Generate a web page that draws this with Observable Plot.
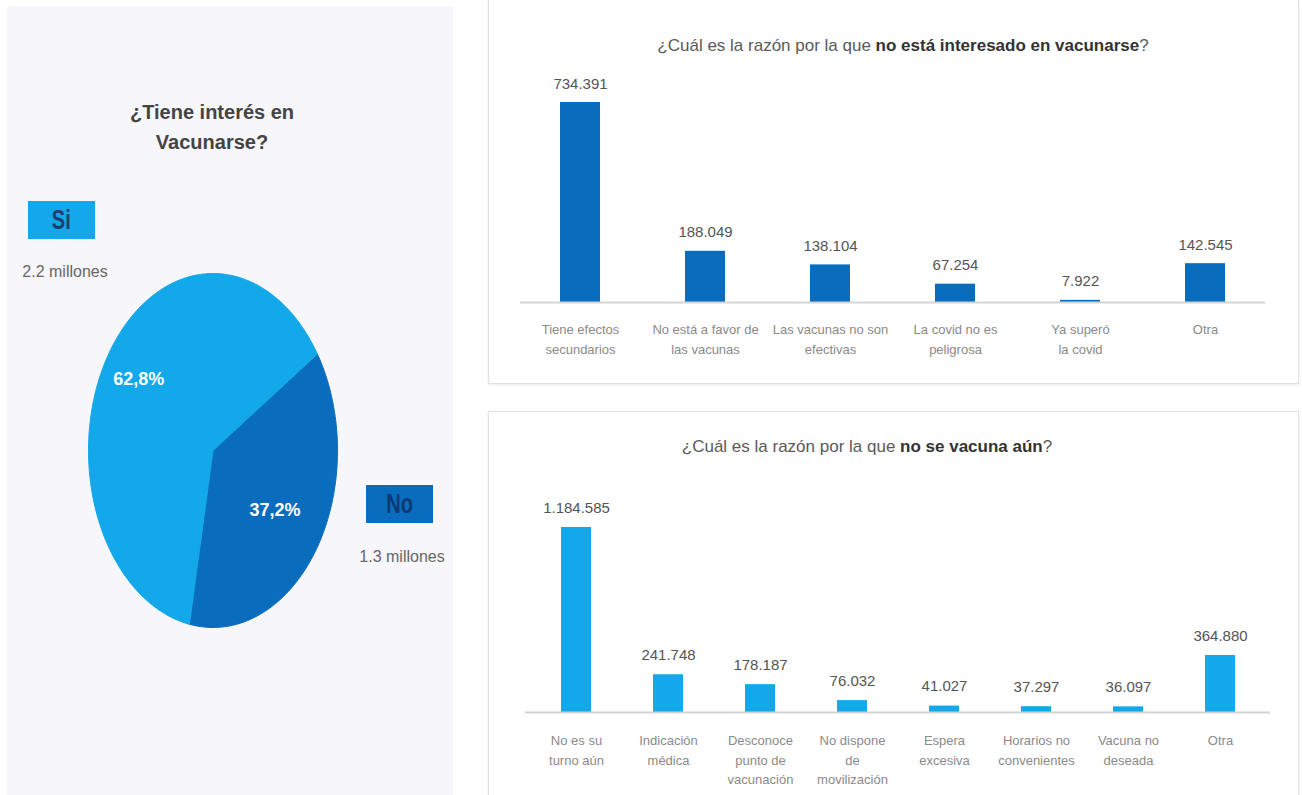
<!DOCTYPE html>
<html>
<head>
<meta charset="utf-8">
<script src="https://cdn.jsdelivr.net/npm/d3@7"></script>
<script src="https://cdn.jsdelivr.net/npm/@observablehq/plot@0.6"></script>
<style>
  html, body { margin: 0; padding: 0; background: #ffffff; }
  body { width: 1302px; height: 795px; position: relative; overflow: hidden; font-family: "Liberation Sans", Arial, sans-serif; }
  .abs { position: absolute; }
  #left { left: 7px; top: 6px; width: 446px; height: 789px; background: #f6f6fb; }
  .panel { background: #fff; border: 1px solid #e2e2e2; box-shadow: 0 1px 3px rgba(0,0,0,0.08); box-sizing: border-box; }
  #topPanel { left: 488px; top: -2px; width: 811px; height: 386px; }
  #botPanel { left: 488px; top: 411px; width: 811px; height: 390px; }
  .ptitle { font-size: 17px; color: #5a5a5a; white-space: nowrap; transform: translate(-50%, -50%); }
  .ptitle b { color: #333; }
  .pieTitle { font-size: 20px; font-weight: bold; color: #444; text-align: center; line-height: 30px; transform: translateX(-50%); white-space: nowrap; }
  .legBox { width: 67px; height: 38px; font-size: 28px; font-weight: bold; text-align: center; line-height: 38px; }
  .legBox span { display: inline-block; transform: scaleX(0.72); }
  .legVal { font-size: 16px; color: #666; white-space: nowrap; transform: translate(-50%, -50%); }
  svg { position: absolute; left: 0; top: 0; }
</style>
</head>
<body>
<div id="left" class="abs"></div>
<div id="topPanel" class="abs panel"></div>
<div id="botPanel" class="abs panel"></div>
<script>
// ---------- DATA ----------
const interestLabels = ["No", "Si"];
const interestShares = [37.2, 62.8];
const interestMillions = [1.3, 2.2];

const reasonsNotInterested = [
  "Tiene efectos\nsecundarios",
  "No está a favor de\nlas vacunas",
  "Las vacunas no son\nefectivas",
  "La covid no es\npeligrosa",
  "Ya superó\nla covid",
  "Otra"
];
const countsNotInterested = [734391, 188049, 138104, 67254, 7922, 142545];

const reasonsNotYet = [
  "No es su\nturno aún",
  "Indicación\nmédica",
  "Desconoce\npunto de\nvacunación",
  "No dispone\nde\nmovilización",
  "Espera\nexcesiva",
  "Horarios no\nconvenientes",
  "Vacuna no\ndeseada",
  "Otra"
];
const countsNotYet = [1184585, 241748, 178187, 76032, 41027, 37297, 36097, 364880];

// ---------- STYLE ----------
const lightBlue = "#12a8ea";
const darkBlue = "#0a6cbd";
const loc = d3.formatLocale({decimal: ",", thousands: ".", grouping: [3], currency: ["", ""]});
const fmtInt = loc.format(",d");
const fmtPct = loc.format(".1f");

// ---------- PIE ----------
const left = document.getElementById("left");
const pieColors = {No: darkBlue, Si: lightBlue};
const labelRadius = {No: 0.6, Si: 0.72};
const arcs = d3.pie().sort(null).value(d => d.share)
  .startAngle(57 * Math.PI / 180).endAngle(417 * Math.PI / 180)
  (interestShares.map((v, i) => ({label: interestLabels[i], share: v})));
const piePts = [];
for (const a of arcs) {
  const lab = a.data.label;
  piePts.push({slice: lab, x: 0, y: 0});
  const n = Math.ceil((a.endAngle - a.startAngle) / (Math.PI / 180));
  for (let k = 0; k <= n; k++) {
    const t = a.startAngle + (a.endAngle - a.startAngle) * k / n;
    piePts.push({slice: lab, x: Math.sin(t), y: Math.cos(t)});
  }
  piePts.push({slice: lab, x: 0, y: 0});
}
const pieLabels = arcs.map(a => {
  const m = (a.startAngle + a.endAngle) / 2, r = labelRadius[a.data.label];
  return {slice: a.data.label, x: Math.sin(m) * r, y: Math.cos(m) * r, text: fmtPct(a.data.share) + "%"};
});
const pie = Plot.plot({
  width: 446, height: 789,
  margin: 0,
  x: {domain: [-1, 1], range: [81, 330], axis: null},
  y: {domain: [-1, 1], range: [621, 267], axis: null},
  style: {background: "transparent", overflow: "visible", fontFamily: "'Liberation Sans', Arial, sans-serif"},
  marks: [
    ...interestLabels.map(l => Plot.line(piePts.filter(p => p.slice === l), {x: "x", y: "y", fill: pieColors[l], stroke: pieColors[l], strokeWidth: 1})),
    Plot.text(pieLabels, {x: "x", y: "y", text: "text", fill: "#fff", fontSize: 18, fontWeight: "bold"})
  ]
});
left.appendChild(pie);

function addDiv(parent, cls, html, x, y, extra) {
  const d = document.createElement("div");
  d.className = "abs " + cls;
  d.innerHTML = html;
  d.style.left = x + "px"; d.style.top = y + "px";
  if (extra) Object.assign(d.style, extra);
  parent.appendChild(d);
  return d;
}
addDiv(left, "pieTitle", "¿Tiene interés en<br>Vacunarse?", 205, 91);
// legend boxes
const iSi = interestLabels.indexOf("Si"), iNo = interestLabels.indexOf("No");
addDiv(left, "legBox", "<span>" + interestLabels[iSi] + "</span>", 21, 195, {background: lightBlue, color: "#1d3f6e"});
addDiv(left, "legVal", interestMillions[iSi] + " millones", 58, 266);
addDiv(left, "legBox", "<span>" + interestLabels[iNo] + "</span>", 359, 479, {background: darkBlue, color: "#0d3a73"});
addDiv(left, "legVal", interestMillions[iNo] + " millones", 395, 551);

// ---------- BAR CHARTS ----------
function barChart({cats, vals, color, width, height, mL, mR, mT, mB, pIn, pOut, tickPad, labelDy}) {
  const data = cats.map((c, i) => ({cat: c, value: vals[i]}));
  return Plot.plot({
    width, height,
    marginLeft: mL, marginRight: mR, marginTop: mT, marginBottom: mB,
    style: {background: "transparent", fontFamily: "'Liberation Sans', Arial, sans-serif", overflow: "visible"},
    x: {domain: cats, paddingInner: pIn, paddingOuter: pOut, label: null},
    y: {domain: [0, d3.max(vals)], axis: null},
    marks: [
      Plot.barY(data, {x: "cat", y: "value", fill: color}),
      Plot.ruleY([0], {stroke: "#d4d4d4", strokeWidth: 2}),
      Plot.text(data, {x: "cat", y: "value", text: d => fmtInt(d.value), lineAnchor: "bottom", dy: labelDy, fontSize: 15, fill: "#555"}),
      Plot.axisX({tickSize: 0, tickPadding: tickPad, fontSize: 13, lineHeight: 1.5, fill: "#8a8a8a", label: null})
    ]
  });
}

const topPanel = document.getElementById("topPanel");
topPanel.appendChild(barChart({
  cats: reasonsNotInterested, vals: countsNotInterested, color: darkBlue,
  width: 809, height: 384, mL: 31, mR: 33, mT: 103, mB: 81,
  pIn: 0.68, pOut: 0.32, tickPad: 18, labelDy: -14
}));
addDiv(topPanel, "ptitle", "¿Cuál es la razón por la que <b>no está interesado en vacunarse</b>?", 414, 47);

const botPanel = document.getElementById("botPanel");
botPanel.appendChild(barChart({
  cats: reasonsNotYet, vals: countsNotYet, color: lightBlue,
  width: 809, height: 388, mL: 36, mR: 28, mT: 115, mB: 88,
  pIn: 0.677, pOut: 0.344, tickPad: 19, labelDy: -15
}));
addDiv(botPanel, "ptitle", "¿Cuál es la razón por la que <b>no se vacuna aún</b>?", 378, 35);
</script>
</body>
</html>
